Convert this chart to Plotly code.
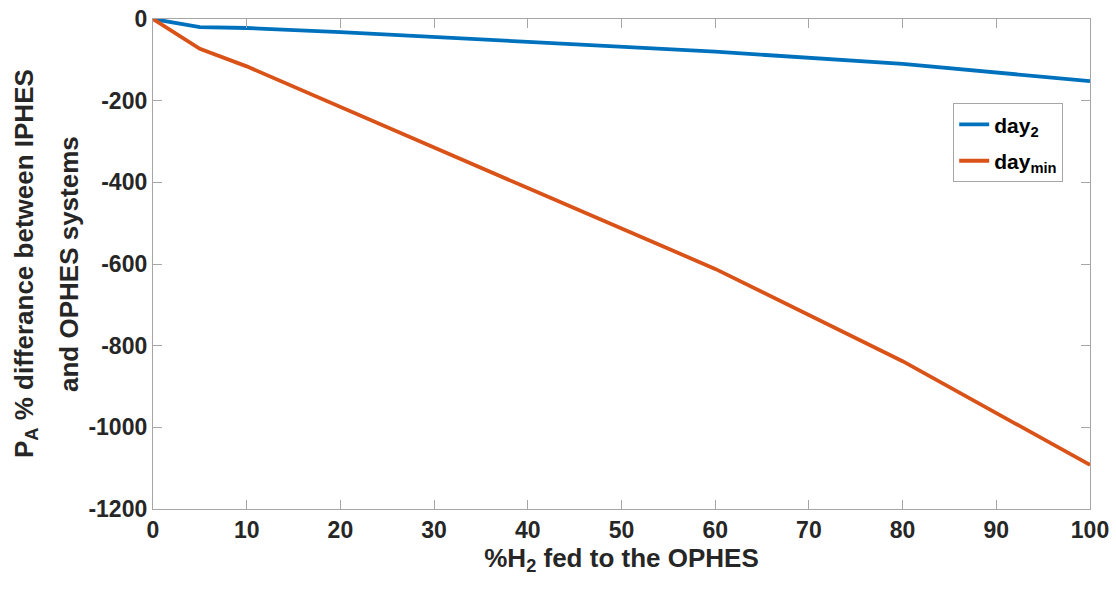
import plotly.graph_objects as go

# %H2 fed to the OPHES
h2_share = [0, 5, 10, 20, 40, 60, 80, 100]
# PA % difference between IPHES and OPHES systems
day_2 = [0, -20, -22, -32, -56, -80, -110, -152]
day_min = [0, -73, -116, -216, -414, -612, -838, -1092]

series_names = ["day<sub>2</sub>", "day<sub>min</sub>"]
series_colors = ["#0072BD", "#D95319"]

x_ticks = list(range(0, 101, 10))
y_ticks = list(range(-1200, 1, 200))
y_tick_labels = [str(v) for v in y_ticks]  # plain hyphen minus signs

y_title_lines = ["P<sub>A</sub> % differance between IPHES", "and OPHES systems"]
x_title = "%H<sub>2</sub> fed to the OPHES"

font_family = "Liberation Sans, Arial, sans-serif"
text_color = "#262626"
axis_color = "#A6A6A6"

fig = go.Figure()
for i, (name, ys, color) in enumerate(zip(series_names, [day_2, day_min], series_colors)):
    fig.add_trace(go.Scatter(
        x=h2_share, y=ys, mode="lines", name=name, legendgroup=f"g{i}",
        line=dict(color=color, width=3.8),
    ))

axis_common = dict(
    showline=True, linecolor=axis_color, linewidth=1.3, mirror="ticks",
    ticks="inside", ticklen=9, tickcolor=axis_color, tickwidth=1.3,
    showgrid=False, zeroline=False, automargin=False,
    tickfont=dict(family=font_family, size=23, color=text_color, weight="bold"),
)

fig.update_layout(
    width=1116, height=589,
    margin=dict(l=153, r=26, t=19, b=80, autoexpand=False),
    paper_bgcolor="white", plot_bgcolor="white",
    font=dict(family=font_family, color=text_color),
    xaxis=dict(
        range=[0, 100], tickvals=x_ticks, **axis_common,
        title=dict(text=x_title,
                   font=dict(family=font_family, size=26, color=text_color, weight="bold"),
                   standoff=4),
    ),
    yaxis=dict(
        range=[-1200, 0], tickvals=y_ticks, ticktext=y_tick_labels, **axis_common,
    ),
    legend=dict(
        x=0.854, y=0.828, xanchor="left", yanchor="top",
        bordercolor="#A6A6A6", borderwidth=1, bgcolor="white",
        font=dict(family=font_family, size=21, color="#000000", weight="bold"),
        itemwidth=30, traceorder="grouped", tracegroupgap=6,
    ),
    showlegend=True,
)

# two-line y-axis title, placed as rotated annotations left of the tick labels
for text, xpx in zip(y_title_lines, [25, 69]):
    fig.add_annotation(
        text=text, textangle=-90, showarrow=False,
        xref="paper", yref="paper", x=0, y=0.5,
        xanchor="center", yanchor="middle", xshift=xpx - 153,
        font=dict(family=font_family, size=26, color=text_color, weight="bold"),
    )

fig.write_html("out.html")
